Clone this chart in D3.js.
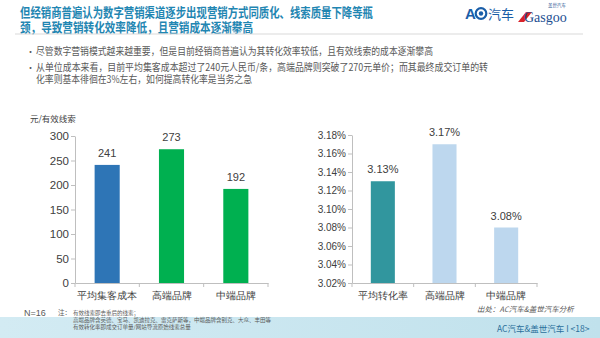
<!DOCTYPE html>
<html><head><meta charset="utf-8">
<script src="https://cdn.jsdelivr.net/npm/d3@7"></script>
<style>
html,body{margin:0;padding:0;background:#fff;}
svg{display:block;font-family:"Noto Sans CJK SC","Noto Sans",sans-serif;}
</style></head>
<body>
<svg id="c" width="600" height="338"></svg>
<script>
// ---- data ----
const costCategories = ["平均集客成本", "高端品牌", "中端品牌"];
const costValues = [241, 273, 192];
const costTicks = [0, 50, 100, 150, 200, 250, 300];
const rateCategories = ["平均转化率", "高端品牌", "中端品牌"];
const rateValues = [3.13, 3.17, 3.08];
const rateTicks = [3.02, 3.04, 3.06, 3.08, 3.10, 3.12, 3.14, 3.16, 3.18];
const titleLines = ["但经销商普遍认为数字营销渠道逐步出现营销方式同质化、线索质量下降等瓶", "颈，导致营销转化效率降低，且营销成本逐渐攀高"];
const bullets = [
  ["尽管数字营销模式越来越重要，但是目前经销商普遍认为其转化效率较低，且有效线索的成本逐渐攀高"],
  ["从单位成本来看，目前平均集客成本超过了240元人民币/条，高端品牌则突破了270元单价；而其最终成交订单的转", "化率则基本徘徊在3%左右，如何提高转化率是当务之急"]
];
const notes = ["有效线索即去重后的线索；", "高端品牌含英德、宝马、凯迪拉克、雷克萨斯等，中端品牌含别克、大众、丰田等", "有效转化率即成交订单量/网站导流原始线索总量"];

const svg = d3.select("#c");
const defs = svg.append("defs");
const g1 = defs.append("linearGradient").attr("id","band").attr("x1","0").attr("x2","1");
g1.append("stop").attr("offset","0").attr("stop-color","#d3ebf3");
g1.append("stop").attr("offset","1").attr("stop-color","#c0e1ec");

// bottom band
svg.append("rect").attr("x",0).attr("y",317).attr("width",600).attr("height",21).attr("fill","url(#band)");

// title
titleLines.forEach((t,i)=>{
  svg.append("text").attr("x",20).attr("y",[17,32][i]).attr("fill","#1f86b2")
    .attr("font-size",13).attr("font-weight","bold")
    .attr("textLength",[353,233][i]).attr("lengthAdjust","spacingAndGlyphs").text(t);
});
svg.append("line").attr("x1",15).attr("x2",583).attr("y1",34).attr("y2",34).attr("stroke","#d9d9d9").attr("stroke-width",1);

// logos
const logo = svg.append("g");
logo.append("text").attr("x",465).attr("y",19).attr("font-size",15).attr("font-weight","bold").attr("fill","#1a5ea8").attr("font-family","Arial, Liberation Sans, sans-serif").text("A");
logo.append("circle").attr("cx",481).attr("cy",13.5).attr("r",5.3).attr("fill","none").attr("stroke","#1a5ea8").attr("stroke-width",2.2);
logo.append("circle").attr("cx",481).attr("cy",13.5).attr("r",2.2).attr("fill","#1a5ea8");
logo.append("text").attr("x",488).attr("y",19).attr("font-size",13).attr("fill","#1a5ea8").text("汽车");
logo.append("path").attr("d","M518,22 L526,12 L532,12 L524,22 Z").attr("fill","#d8232a");
logo.append("text").attr("x",524).attr("y",22).attr("font-size",14).attr("fill","#1d4f91").attr("font-family","Liberation Serif, serif").text("Gasgoo");
logo.append("text").attr("x",548).attr("y",7).attr("font-size",4.5).attr("fill","#1d4f91").text("盖世汽车");

// bullets
const bulletRows = [[51],[67,79]];
const bulletWidths = [[397],[452,216]];
bullets.forEach((lines,bi)=>{
  svg.append("text").attr("x",26).attr("y",bulletRows[bi][0]+3.5).attr("font-size",9).attr("fill","#595959").text("•");
  lines.forEach((t,li)=>{
    svg.append("text").attr("x",36).attr("y",bulletRows[bi][li]+3.5).attr("font-size",10).attr("fill","#595959")
      .attr("textLength",bulletWidths[bi][li]).attr("lengthAdjust","spacingAndGlyphs").text(t);
  });
});

// ---- chart helper ----
function barChart(opt){
  const g = svg.append("g");
  const x = d3.scaleBand().domain(opt.cats).range([opt.x0,opt.x1]).paddingInner(0.61).paddingOuter(0.305);
  const y = d3.scaleLinear().domain(opt.domain).range([opt.yb,opt.yt]);
  const xb = d3.scaleBand().domain(opt.cats).range([opt.x0,opt.x1]);
  const ya = g.append("g").attr("transform",`translate(${opt.x0},0)`)
    .call(d3.axisLeft(y).tickValues(opt.ticks).tickSize(4).tickSizeOuter(0).tickPadding(2).tickFormat(opt.fmt));
  ya.select(".domain").attr("stroke","#bfbfbf");
  ya.selectAll(".tick line").attr("stroke","#bfbfbf");
  ya.selectAll(".tick text").attr("fill","#404040").attr("font-size",opt.tickFont).attr("font-family","Liberation Sans, Arial, sans-serif");
  const xa = g.append("g").attr("transform",`translate(0,${opt.yb})`)
    .call(d3.axisBottom(xb).tickSize(0).tickPadding(9));
  xa.select(".domain").attr("stroke","#bfbfbf");
  xa.selectAll(".tick text").attr("fill","#404040").attr("font-size",9.5);
  const bounds = [opt.x0].concat(opt.cats.map(c=>xb(c)+xb.bandwidth()));
  g.selectAll("line.sep").data(bounds).join("line").attr("class","sep")
    .attr("x1",d=>d).attr("x2",d=>d).attr("y1",opt.yb).attr("y2",opt.yb+4).attr("stroke","#bfbfbf");
  g.selectAll("rect.bar").data(opt.vals).join("rect").attr("class","bar")
    .attr("x",(d,i)=>x(opt.cats[i])).attr("width",x.bandwidth())
    .attr("y",d=>y(d)).attr("height",d=>opt.yb-y(d))
    .attr("fill",(d,i)=>opt.colors[i]);
  g.selectAll("text.val").data(opt.vals).join("text").attr("class","val")
    .attr("x",(d,i)=>x(opt.cats[i])+x.bandwidth()/2).attr("y",d=>y(d)-8)
    .attr("text-anchor","middle").attr("font-size",11).attr("fill","#404040")
    .attr("font-family","Liberation Sans, Arial, sans-serif")
    .text(opt.valFmt);
  return g;
}

barChart({cats:costCategories, vals:costValues, domain:[0,300], ticks:costTicks,
  x0:75, x1:268, yb:283, yt:136, fmt:d=>d, tickFont:11.5,
  colors:["#2e75b6","#00b050","#00b050"], valFmt:d=>d});
svg.append("text").attr("x",30).attr("y",122).attr("font-size",8.5).attr("fill","#404040").text("元/有效线索");

barChart({cats:rateCategories, vals:rateValues, domain:[3.02,3.18], ticks:rateTicks,
  x0:352, x1:537, yb:283, yt:135, fmt:d=>d.toFixed(2)+"%", tickFont:10,
  colors:["#31969e","#bdd7ee","#bdd7ee"], valFmt:d=>d.toFixed(2)+"%"});

// footer
svg.append("text").attr("x",24).attr("y",316).attr("font-size",9).attr("fill","#595959").attr("font-family","Liberation Sans, Arial, sans-serif").text("N=16");
svg.append("text").attr("x",58).attr("y",315).attr("font-size",6.5).attr("fill","#595959").text("注：");
notes.forEach((t,i)=>{
  svg.append("text").attr("x",73).attr("y",[315,322,329][i]).attr("font-size",5.5).attr("fill","#595959").text(t);
});
svg.append("text").attr("x",477).attr("y",312).attr("font-size",7.5).attr("font-style","italic").attr("fill","#595959").text("出处：AC汽车&盖世汽车分析");
svg.append("text").attr("x",497).attr("y",332).attr("font-size",8.5).attr("fill","#2a6f9b").text("AC汽车&盖世汽车 I <18>");
</script>
</body></html>
